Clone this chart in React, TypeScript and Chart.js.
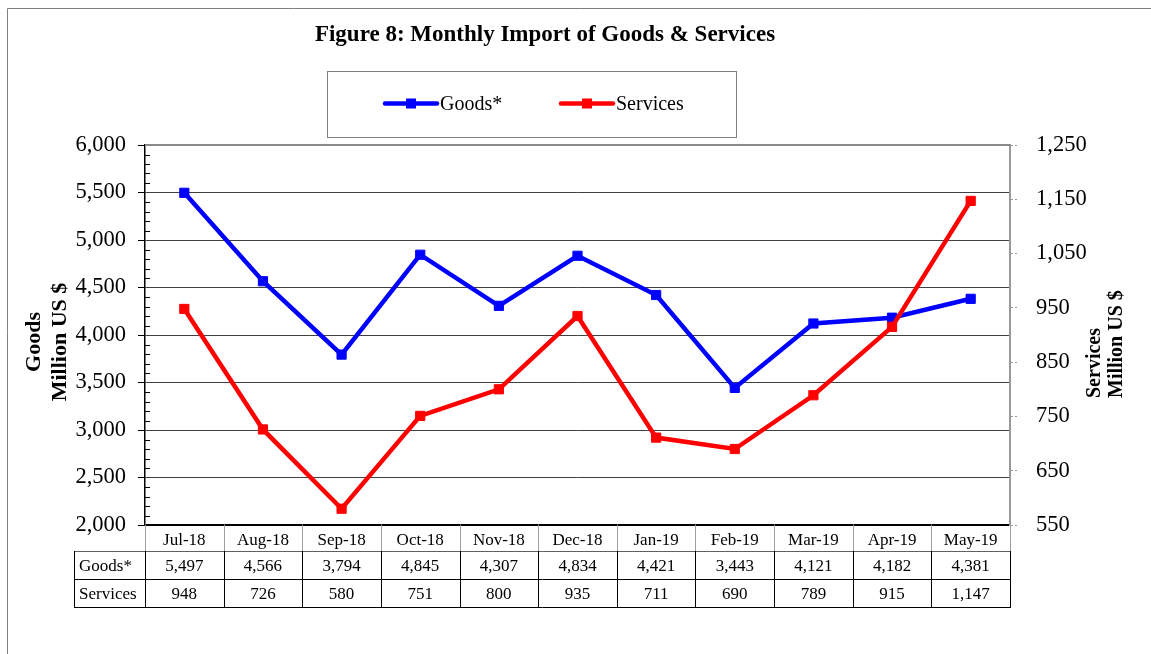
import React, { useEffect, useRef } from "react";
import { Chart, registerables } from "chart.js";

Chart.register(...registerables);

const months = ["Jul-18", "Aug-18", "Sep-18", "Oct-18", "Nov-18", "Dec-18", "Jan-19", "Feb-19", "Mar-19", "Apr-19", "May-19"];
const goods = [5497, 4566, 3794, 4845, 4307, 4834, 4421, 3443, 4121, 4182, 4381];
const services = [948, 726, 580, 751, 800, 935, 711, 690, 789, 915, 1147];
const seriesNames = ["Goods*", "Services"];
const goodsAxis = [2000, 6000, 500];
const servicesAxis = [550, 1250, 100];
const titleText = "Figure 8: Monthly Import of Goods & Services";
const leftTitle = ["Goods", "Million US $"];
const rightTitle = ["Services", "Million US $"];

const FONT = '"Liberation Serif", "Times New Roman", Times, serif';
const fmt = (v: number) => v.toLocaleString("en-US");

const decor = {
  id: "decor",
  beforeDraw(chart: any) {
    const ctx = chart.ctx;
    ctx.save();
    ctx.fillStyle = "#ffffff";
    ctx.fillRect(0, 0, chart.width, chart.height);
    ctx.strokeStyle = "#808080";
    ctx.lineWidth = 1;
    ctx.beginPath();
    ctx.moveTo(7.5, chart.height);
    ctx.lineTo(7.5, 8.5);
    ctx.lineTo(chart.width, 8.5);
    ctx.stroke();
    ctx.restore();
  },
  beforeDatasetsDraw(chart: any) {
    const ctx = chart.ctx;
    const area = chart.chartArea;
    const y = chart.scales.y;
    ctx.save();
    ctx.strokeStyle = "#000";
    ctx.lineWidth = 1;
    for (let v = goodsAxis[0]; v <= goodsAxis[1]; v += 100) {
      if (v % goodsAxis[2] === 0) continue;
      const py = Math.round(y.getPixelForValue(v)) + 0.5;
      ctx.beginPath();
      ctx.moveTo(area.left, py);
      ctx.lineTo(area.left + 5, py);
      ctx.stroke();
    }
    ctx.strokeStyle = "#8a8a8a";
    ctx.lineWidth = 2;
    ctx.beginPath();
    ctx.moveTo(area.left, area.top);
    ctx.lineTo(area.right, area.top);
    ctx.stroke();
    ctx.restore();
  },
  afterDraw(chart: any) {
    const ctx = chart.ctx;
    const area = chart.chartArea;
    const xs = chart.scales.x;
    ctx.save();

    // Title
    ctx.fillStyle = "#000";
    ctx.font = `bold 23px ${FONT}`;
    ctx.textAlign = "center";
    ctx.textBaseline = "alphabetic";
    ctx.fillText(titleText, 545, 41);

    // Legend box
    ctx.strokeStyle = "#808080";
    ctx.lineWidth = 1;
    ctx.strokeRect(327.5, 71.5, 409, 66);
    const legendX = [385, 561];
    chart.data.datasets.forEach((ds: any, i: number) => {
      const lx = legendX[i];
      const ly = 103.5;
      ctx.strokeStyle = ds.borderColor;
      ctx.lineWidth = 4.5;
      ctx.lineCap = "round";
      ctx.beginPath();
      ctx.moveTo(lx, ly);
      ctx.lineTo(lx + 52, ly);
      ctx.stroke();
      ctx.fillStyle = ds.borderColor;
      ctx.fillRect(lx + 26 - 5, ly - 5, 10, 10);
      ctx.fillStyle = "#000";
      ctx.font = `20px ${FONT}`;
      ctx.textAlign = "left";
      ctx.fillText(ds.label, lx + 55, 110);
    });

    // Axis titles
    const vtext = (t: string, x: number, y: number, font: string, align: string) => {
      ctx.save();
      ctx.translate(x, y);
      ctx.rotate(-Math.PI / 2);
      ctx.font = font;
      ctx.textAlign = align;
      ctx.textBaseline = "alphabetic";
      ctx.fillStyle = "#000";
      ctx.fillText(t, 0, 0);
      ctx.restore();
    };
    vtext(leftTitle[0], 40, 342, `bold 22px ${FONT}`, "center");
    vtext(leftTitle[1], 66, 342, `bold 22px ${FONT}`, "center");
    vtext(rightTitle[0], 1100, 398, `bold 20px ${FONT}`, "left");
    vtext(rightTitle[1], 1122, 398, `bold 20px ${FONT}`, "left");

    // Data table
    const n = months.length;
    const cw = (area.right - area.left) / n;
    const r0 = area.bottom;
    const r1 = r0 + 26.5;
    const r2 = r1 + 28;
    const r3 = r2 + 28;
    const tl = 74.5;
    const bx = (i: number) => Math.round(area.left + cw * i) + 0.5;

    ctx.lineWidth = 1;
    ctx.strokeStyle = "#a0a0a0";
    ctx.beginPath();
    for (let i = 0; i <= n; i++) {
      ctx.moveTo(bx(i), r0);
      ctx.lineTo(bx(i), r1);
    }
    ctx.stroke();

    ctx.strokeStyle = "#606060";
    ctx.beginPath();
    ctx.moveTo(tl, r1);
    ctx.lineTo(bx(n), r1);
    ctx.stroke();

    ctx.strokeStyle = "#000";
    ctx.beginPath();
    ctx.moveTo(tl, r2);
    ctx.lineTo(bx(n), r2);
    ctx.moveTo(tl, r3);
    ctx.lineTo(bx(n), r3);
    ctx.moveTo(tl, r1);
    ctx.lineTo(tl, r3);
    for (let i = 0; i <= n; i++) {
      ctx.moveTo(bx(i), r1);
      ctx.lineTo(bx(i), r3);
    }
    ctx.stroke();

    ctx.font = `17px ${FONT}`;
    ctx.fillStyle = "#000";
    ctx.textBaseline = "middle";
    ctx.textAlign = "left";
    ctx.fillText(seriesNames[0], 79, (r1 + r2) / 2 + 1);
    ctx.fillText(seriesNames[1], 79, (r2 + r3) / 2 + 1);
    ctx.textAlign = "center";
    for (let i = 0; i < n; i++) {
      const cx = xs.getPixelForValue(i);
      ctx.fillText(fmt(goods[i]), cx, (r1 + r2) / 2 + 1);
      ctx.fillText(fmt(services[i]), cx, (r2 + r3) / 2 + 1);
    }
    ctx.restore();
  },
};

export default function App() {
  const ref = useRef<HTMLCanvasElement | null>(null);
  useEffect(() => {
    if (!ref.current) return;
    const chart = new Chart(ref.current, {
      type: "line",
      data: {
        labels: months,
        datasets: [
          {
            label: seriesNames[0],
            data: goods,
            yAxisID: "y",
            borderColor: "#0000ff",
            backgroundColor: "#0000ff",
            borderWidth: 4.5,
            pointStyle: "rect",
            pointRadius: 6.5,
            pointBorderWidth: 1,
            tension: 0,
            order: 1,
          },
          {
            label: seriesNames[1],
            data: services,
            yAxisID: "y2",
            borderColor: "#ff0000",
            backgroundColor: "#ff0000",
            borderWidth: 4.5,
            pointStyle: "rect",
            pointRadius: 6.5,
            pointBorderWidth: 1,
            tension: 0,
            order: 0,
          },
        ],
      },
      options: {
        responsive: false,
        animation: false,
        layout: { padding: { top: 145, left: 0, right: 0, bottom: 0 } },
        plugins: { legend: { display: false }, title: { display: false }, tooltip: { enabled: false } },
        scales: {
          x: {
            type: "category",
            offset: true,
            grid: { display: false, drawTicks: false },
            border: { display: true, color: "#000", width: 2 },
            ticks: { color: "#000", font: { family: FONT, size: 17 }, padding: 5, maxRotation: 0, autoSkip: false },
            afterFit: (s: any) => { s.height = 129; },
          },
          y: {
            position: "left",
            min: goodsAxis[0],
            max: goodsAxis[1],
            ticks: { stepSize: goodsAxis[2], color: "#000", font: { family: FONT, size: 22.5 }, padding: 12, callback: (v: any) => fmt(Number(v)) },
            grid: { color: "#404040", lineWidth: 1, tickColor: "#000", tickLength: 7 },
            border: { display: true, color: "#000", width: 1.5 },
            afterFit: (s: any) => { s.width = 145; },
          },
          y2: {
            position: "right",
            min: servicesAxis[0],
            max: servicesAxis[1],
            ticks: { stepSize: servicesAxis[2], color: "#000", font: { family: FONT, size: 22.5 }, padding: 18, callback: (v: any) => fmt(Number(v)) },
            grid: { drawOnChartArea: false, tickColor: "#999", tickLength: 8, tickBorderDash: [2, 2] },
            border: { display: true, color: "#999", width: 2 },
            afterFit: (s: any) => { s.width = 141; },
          },
        },
      },
      plugins: [decor],
    });
    return () => chart.destroy();
  }, []);
  return (
    <div style={{ position: "absolute", left: 0, top: 0, width: 1151, height: 654 }}>
      <canvas ref={ref} width={1151} height={654} style={{ display: "block" }} />
    </div>
  );
}
